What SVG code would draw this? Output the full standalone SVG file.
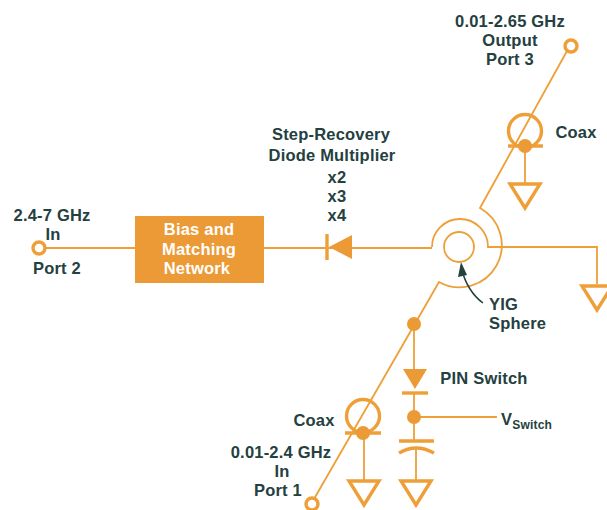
<svg xmlns="http://www.w3.org/2000/svg" width="607" height="510" viewBox="0 0 607 510">
<defs>
<style>
.l{fill:none;stroke:#ee9f38;stroke-width:1.8}
.h{fill:none;stroke:#ee9f38;stroke-width:3.4}
.f{fill:#ec9a36}
.g{fill:#fff;stroke:#ee9f38;stroke-width:3.4}
text{font-family:"Liberation Sans",Arial,sans-serif;font-weight:700;font-size:16.5px;fill:#24403f;text-anchor:middle;letter-spacing:.2px}
</style>
<g id="ground"><path class="h" d="M-15 0H15L0 24Z"/></g>
</defs>
<rect width="607" height="510" fill="#fff"/>
<g id="connectors">
<path class="l" d="M45 248H135M264 248H432"/>
<path class="l" d="M432 247A28 28 0 0 1 488 247H597V284"/>
<path class="l" d="M567 51L480 208A42 42 0 1 1 439 282L314 499"/>
<path class="l" d="M414 324V369M414 417H497M414 393V441M416 447V480"/>
<path class="l" d="M525 146V183M364 433V480"/>
<path d="M483 303C473 296 465 283 462 270" fill="none" stroke="#24403f" stroke-width="1.5"/>
<path d="M461 262L467 275L458 277Z" fill="#24403f"/>
</g>
<g id="port3"><circle class="g" cx="571" cy="46" r="6"/><text x="510" y="27">0.01-2.65 GHz</text><text x="510" y="46">Output</text><text x="510" y="65">Port 3</text></g>
<g id="coax3"><circle class="h" cx="525" cy="131" r="16.5"/><path class="h" d="M508 146H543"/><circle class="f" cx="525" cy="146" r="7"/><text x="576" y="138">Coax</text></g>
<g id="gnd3"><use href="#ground" x="525" y="184"/></g>
<g id="gndr"><use href="#ground" x="597" y="286"/></g>
<g id="yig"><circle cx="459" cy="247" r="15" fill="#fff" stroke="#ee9f38" stroke-width="1.8"/><text x="489" y="310" style="text-anchor:start">YIG</text><text x="489" y="329" style="text-anchor:start">Sphere</text></g>
<g id="port2"><circle class="g" cx="39" cy="248" r="6"/><text x="52" y="221">2.4-7 GHz</text><text x="53" y="240">In</text><text x="57" y="274">Port 2</text></g>
<g id="bias"><rect x="135" y="216" width="129" height="67" class="f"/><text x="199" y="235" style="fill:#fff">Bias and</text><text x="199" y="255" style="fill:#fff">Matching</text><text x="197" y="274" style="fill:#fff">Network</text></g>
<g id="multiplier"><path class="f" d="M352 235V259L329 247Z"/><path class="h" d="M327 234V260"/>
<text x="331" y="140">Step-Recovery</text><text x="332" y="161">Diode Multiplier</text><text x="337" y="183">x2</text><text x="337" y="202">x3</text><text x="337" y="221">x4</text></g>
<g id="junction"><circle class="f" cx="414" cy="324" r="7"/></g>
<g id="pin"><path class="f" d="M403 369H427L415 389Z"/><path class="h" d="M402 393H428"/><text x="484" y="384">PIN Switch</text></g>
<g id="vswitch"><circle class="f" cx="414" cy="417" r="7"/><text x="501" y="425" style="text-anchor:start">V<tspan dy="4" font-size="12">Switch</tspan></text></g>
<g id="cap"><path class="h" d="M399 441H434M399 453Q416 443 434 453"/></g>
<g id="gndc"><use href="#ground" x="416" y="481"/></g>
<g id="coax1"><circle class="h" cx="363" cy="416" r="16.5"/><path class="h" d="M345 433H381"/><circle class="f" cx="363" cy="433" r="7"/><text x="314" y="426">Coax</text></g>
<g id="gnd1"><use href="#ground" x="364" y="481"/></g>
<g id="port1"><circle class="g" cx="312" cy="504" r="6"/><text x="281" y="458">0.01-2.4 GHz</text><text x="282" y="477">In</text><text x="278" y="496">Port 1</text></g>
</svg>
